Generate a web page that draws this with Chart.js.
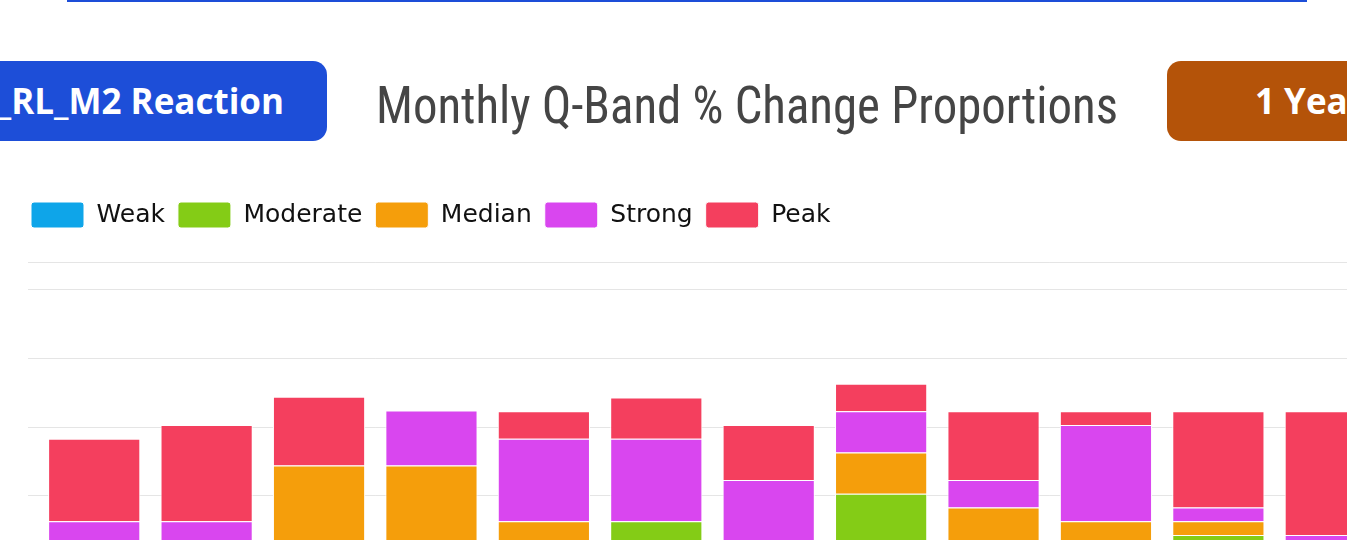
<!DOCTYPE html>
<html>
<head>
<meta charset="utf-8">
<title>Monthly Q-Band % Change Proportions</title>
<script src="https://cdn.jsdelivr.net/npm/chart.js@4.4.1/dist/chart.umd.min.js"></script>
<style>
  html, body { margin: 0; padding: 0; background: #fff; }
  body { width: 1347px; height: 540px; overflow: hidden; position: relative; }

  .top-rule { position: absolute; left: 67px; top: 0; width: 1240px; height: 2px; background: #1d4ed8; }

  .btn {
    position: absolute; top: 61px; height: 80px; line-height: 80px;
    border-radius: 14px; color: #fff; white-space: nowrap;
    font-family: "Open Sans", sans-serif; font-weight: 700; font-size: 35px;
  }
  .btn-source { right: 1020px; padding: 0 43px 0 40px; background: #1d4ed8; }
  .btn-range { left: 1167px; width: 180px; padding-left: 88px; background: #b45309; }

  .title {
    position: absolute; left: 376px; top: 80px; white-space: nowrap;
    font-family: "Roboto Condensed", Roboto, sans-serif; font-size: 52px; line-height: 1;
    color: #454545; transform-origin: 0 0;
  }

  .chart-box { position: absolute; left: 18px; top: 189px; width: 1369px; height: 543px; }
</style>
</head>
<body>
  <div class="top-rule"></div>
  <div class="btn btn-source">_RL_M2 Reaction</div>
  <div class="title" id="title">Monthly Q-Band % Change Proportions</div>
  <div class="btn btn-range">1 Year</div>

  <div class="chart-box">
    <canvas id="qband-chart"></canvas>
  </div>

<script>
// per-month share in each % change band (bottom of the stack is cut off in the view)
const months   = ['Jan', 'Feb', 'Mar', 'Apr', 'May', 'Jun', 'Jul', 'Aug', 'Sep', 'Oct', 'Nov', 'Dec'];
const weak     = [3.15, 3.15, 5.2, 5.2, 5.15, 7.15, 3.15, 9.15, 5.15, 5.15, 7.15, 3.15];
const moderate = [3, 3, 5, 6, 5, 6, 3, 6, 5, 5, 5, 3];
const median   = [3, 4, 7, 6, 3, 0, 3, 3, 4, 3, 1, 3];
const strong   = [4, 3, 0, 4, 6, 6, 7, 3, 2, 7, 1, 3];
const peak     = [6, 7, 5, 0, 2, 3, 4, 2, 5, 1, 7, 9];

const yMax = 32;
const yStep = 5;

// squeeze the title to the condensed width
const titleEl = document.getElementById('title');
const titleW = titleEl.getBoundingClientRect().width;
titleEl.style.transform = `scaleX(${742 / titleW})`;

// extra room under the legend
const legendGap = {
  id: 'legendGap',
  beforeInit(chart) {
    const fit = chart.legend.fit;
    chart.legend.fit = function () {
      fit.bind(chart.legend)();
      this.height += 24;
    };
  },
};

function band(label, data, color) {
  return {
    label,
    data,
    backgroundColor: color,
    borderColor: '#fff',
    borderWidth: 1,
    categoryPercentage: 0.82,
    barPercentage: 1,
  };
}

new Chart(document.getElementById('qband-chart'), {
  type: 'bar',
  data: {
    labels: months,
    datasets: [
      band('Weak', weak, '#0ea5e9'),
      band('Moderate', moderate, '#84cc16'),
      band('Median', median, '#f59e0b'),
      band('Strong', strong, '#d946ef'),
      band('Peak', peak, '#f43f5e'),
    ],
  },
  options: {
    responsive: true,
    maintainAspectRatio: false,
    animation: false,
    plugins: {
      legend: {
        position: 'top',
        align: 'start',
        labels: {
          boxWidth: 53,
          boxHeight: 26,
          padding: 13,
          useBorderRadius: true,
          borderRadius: 3,
          color: '#111',
          font: { family: 'DejaVu Sans', size: 25 },
        },
      },
    },
    scales: {
      x: {
        stacked: true,
        grid: { display: false },
        border: { display: false },
        ticks: { color: '#666', font: { size: 14 } },
        afterFit: s => { s.height = 30; },
      },
      y: {
        stacked: true,
        min: 0,
        max: yMax,
        ticks: { display: false, stepSize: yStep },
        grid: { color: 'rgba(0,0,0,0.1)', tickLength: 10 },
        border: { display: false },
        afterFit: s => { s.width = 20; },
      },
    },
  },
  plugins: [legendGap],
});
</script>
</body>
</html>
